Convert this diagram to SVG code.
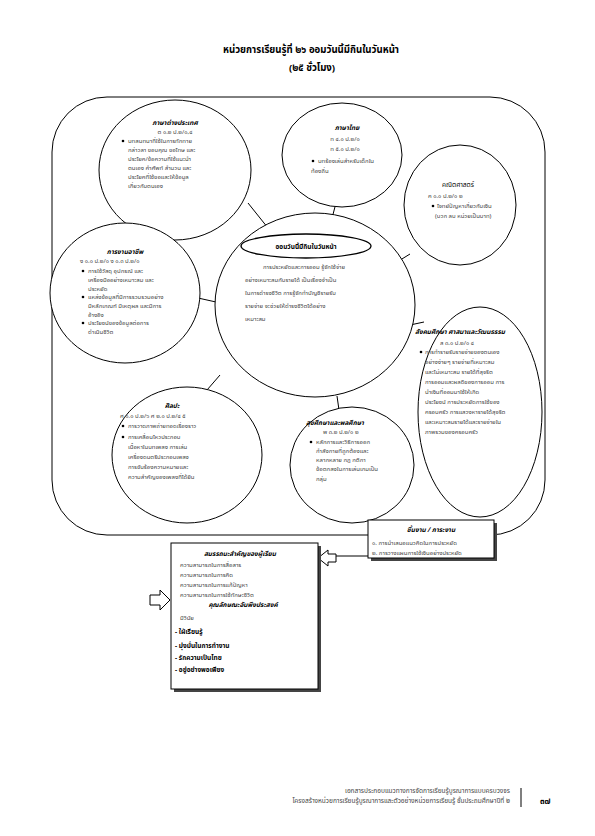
<svg xmlns="http://www.w3.org/2000/svg" width="595" height="836" viewBox="0 0 595 836">
<style>
text{font-family:"Noto Sans Thai","Noto Sans","DejaVu Sans",sans-serif;fill:#444;}
.t{font-size:9.6px;font-weight:bold;text-anchor:middle;fill:#000;}
.h{font-size:6.5px;font-weight:bold;text-anchor:middle;fill:#000;}
.hi{font-size:6.5px;font-weight:bold;font-style:italic;text-anchor:middle;fill:#000;}
.c{font-size:6px;text-anchor:middle;}
.b{font-size:6px;}
.bb{font-size:6.5px;font-weight:bold;fill:#000;}
.f{font-size:6.5px;text-anchor:end;}
.s{fill:none;stroke:#000;stroke-width:1;}
.bx{fill:#fff;stroke:#000;stroke-width:1;}
</style>
<rect width="595" height="836" fill="#fff"/>
<text class="t" x="311" y="53">หน่วยการเรียนรู้ที่ ๒๖ ออมวันนี้มีกินในวันหน้า</text>
<text class="t" x="312" y="71">(๒๕ ชั่วโมง)</text>

<g id="frame"><rect class="s" x="52" y="97" width="493" height="438" rx="55" ry="55"/></g>

<g id="connectors" class="s">
<line x1="248" y1="203" x2="268" y2="228"/>
<line x1="336" y1="203" x2="331" y2="222"/>
<line x1="397" y1="262" x2="410" y2="254"/>
<line x1="198" y1="298" x2="216" y2="302"/>
<line x1="220" y1="375" x2="207" y2="390"/>
<line x1="337" y1="396" x2="339" y2="410"/>
<line x1="410" y1="325" x2="424" y2="322"/>
<path d="M368 556 L336 556"/>
<path d="M318 558 L328 550 L328 554 L336 554 L336 562 L328 562 L328 566 Z" fill="#fff"/>
<path d="M170 600 L160 590 L160 595 L150 595 L150 605 L160 605 L160 610 Z" fill="#fff"/>
</g>

<g id="foreign">
<ellipse class="bx" cx="175" cy="170" rx="76" ry="70"/>
<text class="hi" x="175" y="125">ภาษาต่างประเทศ</text>
<text class="c" x="175" y="134">ต ๑.๒ ป.๒/๑,๔</text>
<circle cx="123" cy="141" r="1.3" fill="#000"/>
<text class="b" x="128" y="143">บทสนทนาที่ใช้ในการทักทาย</text>
<text class="b" x="128" y="152">กล่าวลา ขอบคุณ ขอโทษ และ</text>
<text class="b" x="128" y="161">ประโยค/ข้อความที่ใช้แนะนำ</text>
<text class="b" x="128" y="170">ตนเอง คำศัพท์ สำนวน และ</text>
<text class="b" x="128" y="179">ประโยคที่ใช้ขอและให้ข้อมูล</text>
<text class="b" x="128" y="188">เกี่ยวกับตนเอง</text>
</g>

<g id="thai">
<ellipse class="bx" cx="342" cy="155" rx="60" ry="52"/>
<text class="hi" x="347" y="130">ภาษาไทย</text>
<text class="c" x="345" y="141">ท ๔.๑ ป.๒/๑</text>
<text class="c" x="345" y="151">ท ๕.๑ ป.๒/๑</text>
<circle cx="313" cy="161" r="1.3" fill="#000"/>
<text class="b" x="318" y="163">บทร้องเล่นสำหรับเด็กใน</text>
<text class="b" x="311" y="173">ท้องถิ่น</text>
</g>

<g id="math">
<ellipse class="bx" cx="460" cy="205" rx="56" ry="60"/>
<text class="h" x="458" y="187" style="font-weight:normal">คณิตศาสตร์</text>
<text class="b" x="428" y="198">ค ๑.๑ ป.๒/๑ ๒</text>
<circle cx="433" cy="206" r="1.3" fill="#000"/>
<text class="b" x="437" y="208">โจทย์ปัญหาเกี่ยวกับเงิน</text>
<text class="b" x="435" y="218">(บวก ลบ หน่วยเป็นบาท)</text>
</g>

<g id="career">
<ellipse class="bx" cx="125" cy="293" rx="75" ry="70"/>
<text class="hi" x="125" y="254">การงานอาชีพ</text>
<text class="b" x="80" y="263">ง ๑.๑ ป.๒/๑ ง ๑.๓ ป.๒/๑</text>
<circle cx="83" cy="271" r="1.3" fill="#000"/>
<text class="b" x="88" y="273">การใช้วัสดุ อุปกรณ์ และ</text>
<text class="b" x="88" y="282">เครื่องมืออย่างเหมาะสม และ</text>
<text class="b" x="88" y="291">ประหยัด</text>
<circle cx="83" cy="297" r="1.3" fill="#000"/>
<text class="b" x="88" y="299">แหล่งข้อมูลที่มีการรวบรวมอย่าง</text>
<text class="b" x="88" y="308">มีหลักเกณฑ์ มีเหตุผล และมีการ</text>
<text class="b" x="88" y="317">อ้างอิง</text>
<circle cx="83" cy="323" r="1.3" fill="#000"/>
<text class="b" x="88" y="325">ประโยชน์ของข้อมูลต่อการ</text>
<text class="b" x="88" y="334">ดำเนินชีวิต</text>
</g>

<g id="center">
<ellipse class="bx" cx="315" cy="305" rx="100" ry="92"/>
<ellipse class="bx" cx="306" cy="246" rx="65" ry="12" style="stroke-width:1.3"/>
<text class="h" x="306" y="249">ออมวันนี้มีกินในวันหน้า</text>
<text class="b" x="263" y="269">การประหยัดและการออม รู้จักใช้จ่าย</text>
<text class="b" x="245" y="282">อย่างเหมาะสมกับรายได้ เป็นเรื่องจำเป็น</text>
<text class="b" x="245" y="295">ในการดำรงชีวิต การรู้จักทำบัญชีรายรับ</text>
<text class="b" x="245" y="308">รายจ่าย จะช่วยให้ดำรงชีวิตได้อย่าง</text>
<text class="b" x="245" y="321">เหมาะสม</text>
</g>

<g id="social">
<ellipse class="bx" cx="480" cy="412" rx="62" ry="105"/>
<text class="hi" x="460" y="334">สังคมศึกษา ศาสนาและวัฒนธรรม</text>
<text class="b" x="440" y="345">ส ๓.๑ ป.๒/๑ ๔</text>
<circle cx="421" cy="352" r="1.3" fill="#000"/>
<text class="b" x="425" y="354">การทำรายรับรายจ่ายของตนเอง</text>
<text class="b" x="425" y="364">อย่างง่ายๆ รายจ่ายที่เหมาะสม</text>
<text class="b" x="425" y="374">และไม่เหมาะสม รายได้ที่สุจริต</text>
<text class="b" x="425" y="384">การออมและผลดีของการออม การ</text>
<text class="b" x="425" y="394">นำเงินที่ออมมาใช้ให้เกิด</text>
<text class="b" x="425" y="404">ประโยชน์ การประหยัดการใช้ของ</text>
<text class="b" x="425" y="414">ครอบครัว การแสวงหารายได้สุจริต</text>
<text class="b" x="425" y="424">และเหมาะสมรายได้และรายจ่ายใน</text>
<text class="b" x="425" y="434">ภาพรวมของครอบครัว</text>
</g>

<g id="art">
<ellipse class="bx" cx="187" cy="455" rx="75" ry="68"/>
<text class="hi" x="172" y="408">ศิลปะ</text>
<text class="b" x="120" y="418">ศ ๑.๑ ป.๒/๖ ศ ๒.๑ ป.๒/๔ ๕</text>
<circle cx="123" cy="426" r="1.3" fill="#000"/>
<text class="b" x="128" y="428">การวาดภาพถ่ายทอดเรื่องราว</text>
<circle cx="123" cy="437" r="1.3" fill="#000"/>
<text class="b" x="128" y="439">การเคลื่อนไหวประกอบ</text>
<text class="b" x="128" y="449">เนื้อหาในบทเพลง การเล่น</text>
<text class="b" x="128" y="459">เครื่องดนตรีประกอบเพลง</text>
<text class="b" x="128" y="469">การขับร้องความหมายและ</text>
<text class="b" x="128" y="479">ความสำคัญของเพลงที่ได้ยิน</text>
</g>

<g id="health">
<ellipse class="bx" cx="352" cy="465" rx="62" ry="58"/>
<text class="hi" x="335" y="425">สุขศึกษาและพลศึกษา</text>
<text class="b" x="323" y="434">พ ๓.๒ ป.๒/๑ ๒</text>
<circle cx="311" cy="442" r="1.3" fill="#000"/>
<text class="b" x="316" y="444">หลักการและวิธีการออก</text>
<text class="b" x="316" y="453">กำลังกายที่ถูกต้องและ</text>
<text class="b" x="316" y="462">หลากหลาย กฎ กติกา</text>
<text class="b" x="316" y="471">ข้อตกลงในการเล่นเกมเป็น</text>
<text class="b" x="316" y="481">กลุ่ม</text>
</g>

<g id="work">
<rect x="371" y="523" width="126" height="38" fill="#444"/>
<rect class="bx" x="368" y="520" width="126" height="38"/>
<text class="hi" x="431" y="532">ชิ้นงาน / ภาระงาน</text>
<text class="b" x="372" y="545">๑. การนำเสนอแนวคิดในการประหยัด</text>
<text class="b" x="372" y="555">๒. การวางแผนการใช้เงินอย่างประหยัด</text>
</g>

<g id="competency">
<rect x="174" y="546" width="147" height="146" fill="#444"/>
<rect class="bx" x="171" y="543" width="147" height="146"/>
<text class="hi" x="240" y="556">สมรรถนะสำคัญของผู้เรียน</text>
<text class="b" x="180" y="567">ความสามารถในการสื่อสาร</text>
<text class="b" x="180" y="577">ความสามารถในการคิด</text>
<text class="b" x="180" y="587">ความสามารถในการแก้ปัญหา</text>
<text class="b" x="180" y="597">ความสามารถในการใช้ทักษะชีวิต</text>
<text class="hi" x="243" y="607">คุณลักษณะอันพึงประสงค์</text>
<text class="b" x="180" y="620">มีวินัย</text>
<text class="bb" x="175" y="634">- ใฝ่เรียนรู้</text>
<text class="bb" x="175" y="648">- มุ่งมั่นในการทำงาน</text>
<text class="bb" x="175" y="660">- รักความเป็นไทย</text>
<text class="bb" x="175" y="672">- อยู่อย่างพอเพียง</text>
</g>

<g id="footer">
<text class="f" x="510" y="793">เอกสารประกอบแนวทางการจัดการเรียนรู้บูรณาการแบบครบวงจร</text>
<text class="f" x="510" y="803">โครงสร้างหน่วยการเรียนรู้บูรณาการและตัวอย่างหน่วยการเรียนรู้ ชั้นประถมศึกษาปีที่ ๒</text>
<line x1="521" y1="788" x2="521" y2="807" stroke="#555" stroke-width="1.5"/>
<text class="bb" x="540" y="804" style="font-size:8px">๓๗</text>
</g>
</svg>
